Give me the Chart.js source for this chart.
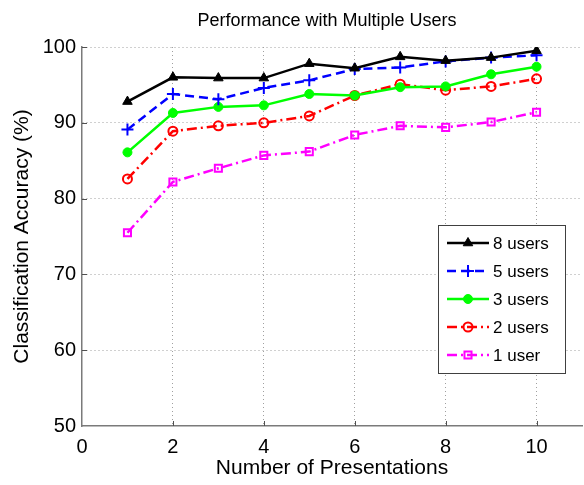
<!DOCTYPE html>
<html>
<head>
<meta charset="utf-8">
<script src="https://cdn.jsdelivr.net/npm/chart.js@4"></script>
<style>
  html, body { margin: 0; padding: 0; background: #fff; }
  #wrap { width: 584px; height: 485px; }
</style>
</head>
<body>
<div id="wrap"><canvas id="c" width="584" height="485"></canvas></div>
<script>
// Classification accuracy versus number of presentations
const presentations = [1, 2, 3, 4, 5, 6, 7, 8, 9, 10];
const users8 = [92.8, 96.0, 95.9, 95.9, 97.8, 97.2, 98.7, 98.2, 98.6, 99.5];
const users5 = [89.1, 93.8, 93.1, 94.6, 95.6, 97.1, 97.3, 98.1, 98.6, 98.9];
const users3 = [86.1, 91.3, 92.1, 92.3, 93.8, 93.6, 94.7, 94.8, 96.4, 97.4];
const users2 = [82.6, 88.9, 89.6, 90.0, 90.9, 93.6, 95.1, 94.3, 94.8, 95.8];
const users1 = [75.5, 82.2, 84.0, 85.7, 86.2, 88.4, 89.6, 89.4, 90.1, 91.4];
const seriesLabels = ['8 users', '5 users', '3 users', '2 users', '1 user'];
const xTicks = [0, 2, 4, 6, 8, 10];
const yTicks = [50, 60, 70, 80, 90, 100];

const FONT = "'Liberation Sans', Arial, Helvetica, sans-serif";

function pts(vals) { return presentations.map((x, i) => ({ x, y: vals[i] })); }

const datasets = [
  { label: seriesLabels[0], data: pts(users8), borderColor: '#000', backgroundColor: '#000',
    borderWidth: 2.5, borderDash: [], pointStyle: 'triangle', pointRadius: 5.5,
    pointBorderWidth: 1, pointBorderColor: '#000', pointBackgroundColor: '#000' },
  { label: seriesLabels[1], data: pts(users5), borderColor: '#0000ff', backgroundColor: '#0000ff',
    borderWidth: 2.5, borderDash: [9, 5], pointStyle: 'cross', pointRadius: 6,
    pointBorderWidth: 2, pointBorderColor: '#0000ff', pointBackgroundColor: '#0000ff' },
  { label: seriesLabels[2], data: pts(users3), borderColor: '#00ff00', backgroundColor: '#00ff00',
    borderWidth: 2.5, borderDash: [], pointStyle: 'circle', pointRadius: 4.5,
    pointBorderWidth: 1, pointBorderColor: '#00ff00', pointBackgroundColor: '#00ff00' },
  { label: seriesLabels[3], data: pts(users2), borderColor: '#ff0000', backgroundColor: 'rgba(0,0,0,0)',
    borderWidth: 2.5, borderDash: [10, 4, 2, 4], pointStyle: 'circle', pointRadius: 4.5,
    pointBorderWidth: 2, pointBorderColor: '#ff0000', pointBackgroundColor: 'rgba(0,0,0,0)' },
  { label: seriesLabels[4], data: pts(users1), borderColor: '#ff00ff', backgroundColor: 'rgba(0,0,0,0)',
    borderWidth: 2.5, borderDash: [10, 4, 2, 4], pointStyle: 'rect', pointRadius: 5,
    pointBorderWidth: 2, pointBorderColor: '#ff00ff', pointBackgroundColor: 'rgba(0,0,0,0)' }
];

// Title centred over the plotting area
const titlePlugin = {
  id: 'plotTitle',
  afterDraw(chart) {
    const { ctx, chartArea } = chart;
    ctx.save();
    ctx.font = '18px ' + FONT;
    ctx.fillStyle = '#000';
    ctx.textAlign = 'center';
    ctx.textBaseline = 'middle';
    ctx.fillText('Performance with Multiple Users', (chartArea.left + chartArea.right) / 2 - 5, 21);
    ctx.restore();
  }
};

// Short inward tick marks along both axes
const innerTicks = {
  id: 'innerTicks',
  afterDatasetsDraw(chart) {
    const { ctx, chartArea, scales } = chart;
    ctx.save();
    ctx.strokeStyle = '#505050';
    ctx.lineWidth = 1;
    ctx.beginPath();
    xTicks.forEach(v => {
      if (v === 0) return;
      const px = Math.round(scales.x.getPixelForValue(v)) + 0.5;
      ctx.moveTo(px, chartArea.bottom);
      ctx.lineTo(px, chartArea.bottom - 5);
    });
    yTicks.forEach(v => {
      if (v === 50) return;
      const py = Math.round(scales.y.getPixelForValue(v)) + 0.5;
      ctx.moveTo(chartArea.left, py);
      ctx.lineTo(chartArea.left + 5, py);
    });
    ctx.stroke();
    ctx.restore();
  }
};

// Boxed legend with line samples, drawn inside the plot
const boxLegend = {
  id: 'boxLegend',
  afterDraw(chart) {
    const { ctx } = chart;
    const left = 438, top = 225, w = 127, h = 148;
    ctx.save();
    ctx.fillStyle = '#fff';
    ctx.fillRect(left, top, w, h);
    ctx.strokeStyle = '#404040';
    ctx.lineWidth = 1;
    ctx.strokeRect(left + 0.5, top + 0.5, w, h);
    chart.data.datasets.forEach((ds, i) => {
      const y = top + 18 + i * 28;
      ctx.save();
      ctx.strokeStyle = ds.borderColor;
      ctx.lineWidth = ds.borderWidth;
      ctx.setLineDash(ds.borderDash || []);
      ctx.beginPath();
      ctx.moveTo(447, y);
      ctx.lineTo(489, y);
      ctx.stroke();
      ctx.restore();
      ctx.save();
      ctx.setLineDash([]);
      ctx.fillStyle = ds.pointBackgroundColor;
      ctx.strokeStyle = ds.pointBorderColor;
      ctx.lineWidth = ds.pointBorderWidth;
      Chart.helpers.drawPoint(ctx, { pointStyle: ds.pointStyle, radius: ds.pointRadius, borderWidth: ds.pointBorderWidth, rotation: 0 }, 468, y);
      ctx.restore();
      ctx.fillStyle = '#000';
      ctx.font = '17px ' + FONT;
      ctx.textAlign = 'left';
      ctx.textBaseline = 'middle';
      ctx.fillText(ds.label, 493, y + 1);
    });
    ctx.restore();
  }
};

const gridColor = (ctx, edge) => (ctx.tick && ctx.tick.value === edge) ? 'rgba(0,0,0,0)' : '#a0a0a0';

new Chart(document.getElementById('c'), {
  type: 'line',
  data: { datasets },
  plugins: [titlePlugin, innerTicks, boxLegend],
  options: {
    responsive: false,
    animation: false,
    layout: { autoPadding: false, padding: { top: 47, right: 2, left: 0, bottom: 0 } },
    plugins: { legend: { display: false }, tooltip: { enabled: false }, title: { display: false } },
    scales: {
      x: {
        type: 'linear', min: 0, max: 11,
        afterBuildTicks(scale) { scale.ticks = xTicks.map(v => ({ value: v })); },
        afterFit(scale) { scale.height = 59; scale.paddingLeft = 0; scale.paddingRight = 0; },
        ticks: { color: '#000', font: { family: FONT, size: 20 }, padding: 9, maxRotation: 0 },
        grid: { drawTicks: false, tickLength: 0, lineWidth: 1, color: c => gridColor(c, 0) },
        border: { display: true, color: '#7a7a7a', width: 1.5, dash: [1, 3] },
        title: { display: true, text: 'Number of Presentations', color: '#000',
                 font: { family: FONT, size: 21 }, padding: { top: 0, bottom: 4 } }
      },
      y: {
        type: 'linear', min: 50, max: 100,
        afterBuildTicks(scale) { scale.ticks = yTicks.map(v => ({ value: v })); },
        afterFit(scale) { scale.width = 82; },
        ticks: { color: '#000', font: { family: FONT, size: 20 }, padding: 6 },
        grid: { drawTicks: false, tickLength: 0, lineWidth: 1, color: c => gridColor(c, 50) },
        border: { display: true, color: '#7a7a7a', width: 1.5, dash: [1, 3] },
        title: { display: true, text: 'Classification Accuracy (%)', color: '#000',
                 font: { family: FONT, size: 21 }, padding: { top: 10, bottom: 0 } }
      }
    }
  }
});
</script>
</body>
</html>
